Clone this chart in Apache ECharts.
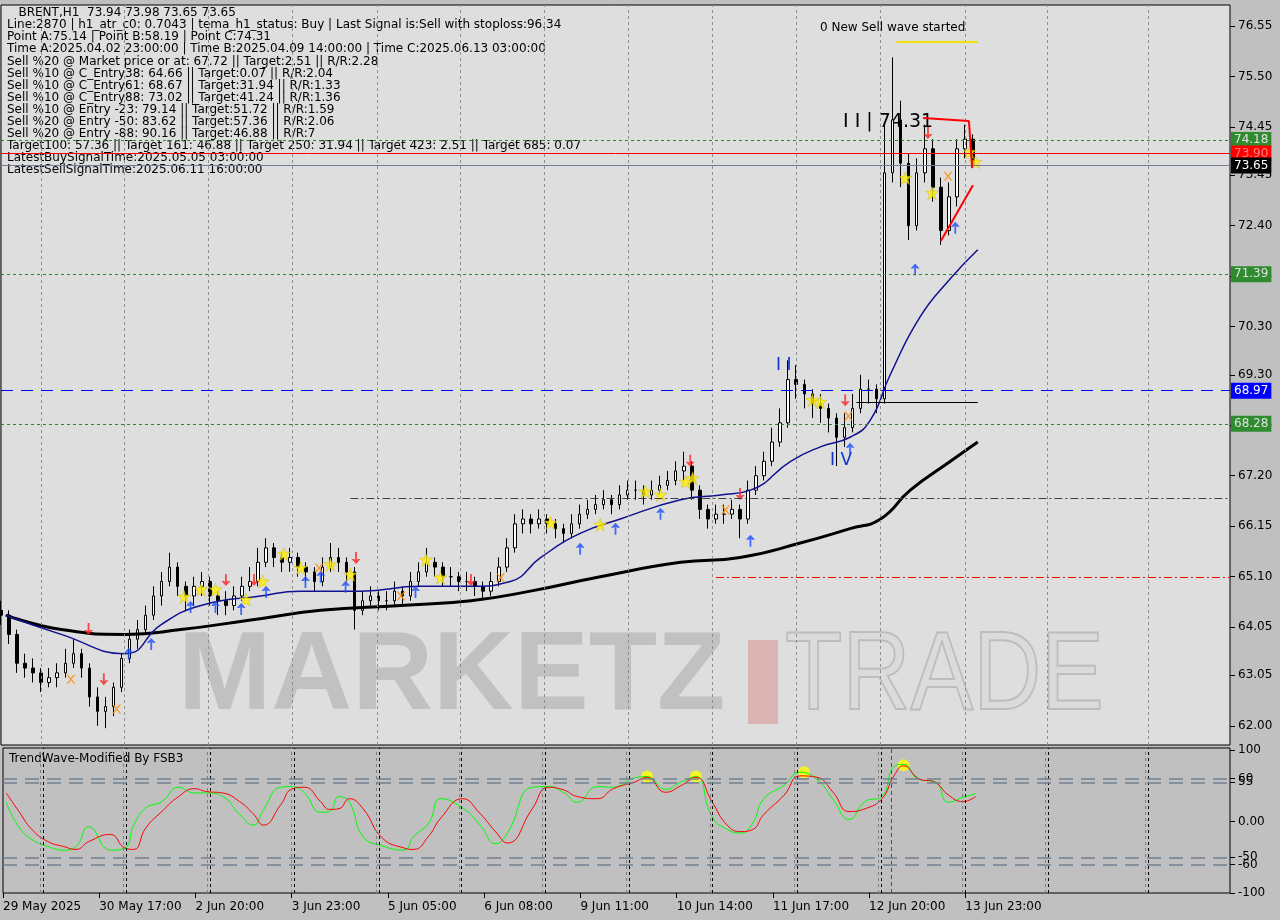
<!DOCTYPE html>
<html><head><meta charset="utf-8">
<script src="https://cdn.jsdelivr.net/npm/echarts@6/dist/echarts.min.js"></script>
<style>html,body{margin:0;padding:0;background:#c0c0c0}#c{width:1280px;height:920px}</style>
</head><body><div id="c"></div>
<script>
// ---- data ----
const closes=[64.30,63.90,63.30,63.20,63.10,62.90,63.00,63.10,63.30,63.50,63.20,62.60,62.30,62.40,62.80,63.40,63.80,64.00,64.30,64.70,65.00,65.30,64.90,64.70,64.90,65.00,64.70,64.60,64.50,64.70,64.90,65.00,65.40,65.70,65.50,65.40,65.50,65.30,65.20,65.00,65.30,65.50,65.40,65.20,64.40,64.60,64.70,64.60,64.60,64.80,64.70,65.00,65.20,65.40,65.30,65.10,65.10,65.00,65.00,64.90,64.80,65.00,65.30,65.70,66.20,66.30,66.20,66.30,66.20,66.10,66.00,66.20,66.40,66.50,66.60,66.70,66.60,66.80,66.90,66.90,66.80,66.90,67.00,67.10,67.30,67.40,66.90,66.50,66.30,66.40,66.40,66.50,66.30,66.90,67.20,67.50,67.90,68.30,69.20,69.10,68.90,68.70,68.60,68.40,68.00,68.20,68.60,69.00,69.00,68.80,73.50,74.60,73.70,72.40,73.50,74.00,73.20,72.30,73.00,74.00,74.20,73.65];
const highs=[64.6,64.4,64.0,63.5,63.4,63.2,63.2,63.3,63.6,63.8,63.6,63.3,62.8,62.6,62.9,63.5,64.0,64.2,64.5,64.9,65.2,65.6,65.4,65.0,65.1,65.2,65.1,64.8,64.8,64.9,65.1,65.3,65.7,65.9,65.8,65.6,65.7,65.6,65.4,65.3,65.5,65.8,65.7,65.5,65.3,64.8,64.9,64.8,64.8,65.0,64.9,65.2,65.4,65.7,65.5,65.4,65.3,65.2,65.2,65.1,65.0,65.2,65.5,65.9,66.4,66.5,66.4,66.5,66.4,66.3,66.2,66.4,66.6,66.7,66.8,66.9,66.8,67.0,67.1,67.1,67.0,67.1,67.2,67.3,67.5,67.7,67.5,67.0,66.6,66.6,66.6,66.7,66.6,67.1,67.4,67.7,68.2,68.6,69.6,69.5,69.2,69.0,68.9,68.7,68.5,68.5,68.9,69.3,69.2,69.1,74.5,75.9,75.0,73.9,73.8,74.5,74.2,73.4,73.3,74.2,74.5,74.3];
const lows=[64.1,63.7,63.1,63.0,62.9,62.7,62.8,62.8,63.0,63.2,63.0,62.4,62.0,61.95,62.2,62.7,63.3,63.6,63.9,64.2,64.5,64.9,64.7,64.4,64.5,64.7,64.5,64.3,64.3,64.4,64.6,64.8,64.9,65.3,65.3,65.2,65.2,65.1,65.0,64.8,64.9,65.2,65.2,65.0,64.0,64.3,64.5,64.4,64.4,64.5,64.5,64.6,64.9,65.1,65.1,64.9,64.9,64.8,64.8,64.7,64.6,64.7,64.9,65.2,65.6,66.0,66.0,66.1,66.0,65.9,65.8,65.9,66.1,66.3,66.4,66.5,66.4,66.5,66.7,66.7,66.6,66.7,66.8,66.9,67.0,67.1,66.7,66.3,66.1,66.2,66.2,66.3,65.9,66.2,66.8,67.1,67.4,67.8,68.2,68.8,68.6,68.4,68.3,68.1,67.4,67.8,68.1,68.5,68.7,68.5,68.7,73.3,73.2,72.1,72.3,73.3,72.9,72.0,72.2,72.8,73.8,73.6];
const firstOpen=64.40;
const blueMA=[[0.6,64.3],[7.5,63.9],[15.5,63.5],[19.9,64.1],[24.9,64.5],[32.3,64.7],[37.3,64.8],[44.8,64.8],[52.2,64.9],[58.5,64.9],[63.4,65.0],[67.2,65.5],[72.1,66.0],[77.1,66.3],[84.6,66.7],[89.6,66.8],[93.3,66.9],[98.3,67.5],[102,67.8],[105.7,68.0],[108.2,68.35],[110.7,69.3],[114.4,70.5],[118.2,71.3],[121.6,71.9]];
const blackMA=[[0.6,64.3],[7.5,64.0],[15.5,63.9],[22.4,64.0],[31.1,64.2],[39.8,64.4],[49.8,64.5],[58.5,64.6],[65.9,64.8],[74.6,65.1],[84.6,65.4],[92,65.5],[99.5,65.8],[105.7,66.1],[109.5,66.3],[113.2,66.9],[118.2,67.5],[121.6,67.9]];
const stars=[[22.8,64.68],[24.9,64.83],[26.7,64.83],[30.5,64.62],[32.6,65.0],[35.2,65.57],[37.3,65.28],[41.0,65.35],[43.5,65.14],[52.9,65.45],[54.7,65.08],[68.4,66.22],[74.6,66.18],[80.2,66.87],[82.1,66.8],[85.2,67.07],[86.1,67.15],[101.0,68.77],[102.0,68.73],[112.6,73.39],[115.9,73.08],[120.6,73.93],[121.3,73.72]];
const upArrows=[[15.9,63.5],[18.7,63.7],[23.6,64.47],[26.7,64.47],[29.9,64.43],[33.0,64.78],[37.9,64.99],[39.8,65.1],[42.9,64.89],[51.6,64.78],[72.1,65.68],[76.5,66.1],[82.1,66.41],[93.3,65.85],[105.7,67.76],[113.8,71.49],[118.8,72.36]];
const downArrows=[[10.9,64.01],[12.8,62.97],[28.0,65.03],[31.5,65.03],[44.2,65.49],[58.5,65.03],[85.8,67.51],[92.0,66.82],[105.1,68.77],[115.4,74.33]];
const orangeX=[[8.7,62.97],[14.4,62.35],[39.6,65.28],[49.8,64.7],[62.2,65.08],[90.2,66.49],[105.5,68.44],[117.9,73.43]];
const oscX=[0.4,2.0,3.6,5.6,7.6,9.1,10.7,13.4,15.2,16.3,17.8,19.8,21.9,23.9,25.4,27.4,29.5,31.2,32.5,34.6,36.1,37.6,39.6,40.7,41.9,43.2,44.9,47.3,50.0,51.2,53.1,54.6,57.3,59.5,61.4,62.9,66.0,68.0,70.0,71.6,74.1,76.1,78.7,80.3,82.6,84.5,86.4,88.4,90.3,92.0,93.5,94.8,97.4,99.4,101.5,103.5,105.5,107.5,109.6,111.1,112.3,114.2,116.2,117.9,119.7,121.3];
const oscGreen=[27,-8,-25,-35,-40,-35,-7,-40,-37,-5,19,28,48,40,40,35,10,-5,17,48,49,40,13,14,35,27,-21,-34,-40,-21,-2,32,19,-5,-31,-16,48,49,40,27,49,48,61,63,45,55,63,7,-11,-16,-2,31,51,69,59,31,3,28,35,77,80,59,56,27,34,39];
const oscRed=[40,14,-11,-28,-35,-39,-28,-18,-37,-39,-9,14,35,46,42,40,28,11,-5,23,46,48,28,17,18,32,18,-23,-37,-39,-20,5,32,11,-14,-30,18,48,44,35,32,46,55,62,41,50,62,28,-5,-14,-11,9,37,64,62,41,14,18,32,64,78,60,55,37,28,35];
const oscDots=[[80.3,63],[86.4,63],[99.9,69],[112.3,79]];
const dateLabels=["29 May 2025","30 May 17:00","2 Jun 20:00","3 Jun 23:00","5 Jun 05:00","6 Jun 08:00","9 Jun 11:00","10 Jun 14:00","11 Jun 17:00","12 Jun 20:00","13 Jun 23:00"];
const priceTicks=[76.55,75.50,74.45,73.45,72.40,71.35,70.30,69.30,68.25,67.20,66.15,65.10,64.05,63.05,62.00];
const oscTicks=[100,60,55,0,-50,-60,-100];
const levels={green:[74.18,71.39,68.28],red:73.90,last:73.65,blue:68.97};
const infoLines=["   BRENT,H1  73.94 73.98 73.65 73.65",
"Line:2870 | h1_atr_c0: 0.7043 | tema_h1_status: Buy | Last Signal is:Sell with stoploss:96.34",
"Point A:75.14 | Point B:58.19 | Point C:74.31",
"Time A:2025.04.02 23:00:00 | Time B:2025.04.09 14:00:00 | Time C:2025.06.13 03:00:00",
"Sell %20 @ Market price or at: 67.72 || Target:2.51 || R/R:2.28",
"Sell %10 @ C_Entry38: 64.66 || Target:0.07 || R/R:2.04",
"Sell %10 @ C_Entry61: 68.67 || Target:31.94 || R/R:1.33",
"Sell %10 @ C_Entry88: 73.02 || Target:41.24 || R/R:1.36",
"Sell %10 @ Entry -23: 79.14 || Target:51.72 || R/R:1.59",
"Sell %20 @ Entry -50: 83.62 || Target:57.36 || R/R:2.06",
"Sell %20 @ Entry -88: 90.16 || Target:46.88 || R/R:7",
"Target100: 57.36 || Target 161: 46.88 || Target 250: 31.94 || Target 423: 2.51 || Target 685: 0.07",
"LatestBuySignalTime:2025.05.05 03:00:00",
"LatestSellSignalTime:2025.06.11 16:00:00"];
const vGrid=[5.0,15.4,25.8,36.3,46.9,57.2,67.6,78.1,88.5,99.0,109.5,120.0,130.3,142.8];
const NCAT=154;
// ---- build ----
const cats=[];for(let i=0;i<NCAT;i++){cats.push(i%12===0&&i/12<dateLabels.length?dateLabels[i/12]:'');}
const candles=closes.map((c,i)=>[i===0?firstOpen:closes[i-1],c,lows[i],highs[i]]);
const ch=echarts.init(document.getElementById('c'));
const FONT='DejaVu Sans';
const lbl=(bg,fg)=>({show:true,position:'end',formatter:p=>p.value.toFixed(2),backgroundColor:bg,color:fg,fontFamily:FONT,fontSize:12,padding:[2,3],distance:1});
const gridLines=vGrid.map(v=>({xAxis:v}));
const xPath='path://M0,0L2,0L5,3L8,0L10,0L6,4L10,8L8,8L5,5L2,8L0,8L4,4Z';
ch.setOption({
 animation:false,backgroundColor:'#c0c0c0',
 grid:[{left:1,top:5,width:1229,height:740,show:true,backgroundColor:'#dedede',borderColor:'#000',borderWidth:1},
       {left:1,top:748,width:1229,height:145,show:true,backgroundColor:'#c0c0c0',borderColor:'#000',borderWidth:1}],
 xAxis:[{type:'category',gridIndex:0,data:cats,boundaryGap:false,axisLabel:{show:false},axisTick:{show:false},axisLine:{show:false}},
        {type:'value',gridIndex:0,min:0,max:NCAT-1,show:false},
        {type:'category',gridIndex:1,data:cats,boundaryGap:false,axisLine:{show:false,onZero:false},
         axisTick:{show:true,length:5,lineStyle:{color:'#000'},interval:(i,v)=>v!==''},
         axisLabel:{interval:(i,v)=>v!=='',align:'left',color:'#000',fontFamily:FONT,fontSize:12,margin:8}},
        {type:'value',gridIndex:1,min:0,max:NCAT-1,show:false}],
 yAxis:[{type:'value',gridIndex:0,position:'right',min:61.6,max:76.99,splitLine:{show:false},axisLine:{show:false,onZero:false},
         axisTick:{show:true,length:5,lineStyle:{color:'#000'},customValues:priceTicks},
         axisLabel:{customValues:priceTicks,formatter:v=>v.toFixed(2),color:'#000',fontFamily:FONT,fontSize:12,margin:8}},
        {type:'value',gridIndex:1,position:'right',min:-100,max:103,splitLine:{show:false},axisLine:{show:false,onZero:false},
         axisTick:{show:true,length:5,lineStyle:{color:'#000'},customValues:oscTicks},
         axisLabel:{customValues:oscTicks,showMinLabel:true,formatter:v=>v===0?'0.00':String(v),color:'#000',fontFamily:FONT,fontSize:12,margin:8}}],
 series:[
  {type:'line',xAxisIndex:1,yAxisIndex:0,data:[],silent:true,
   markLine:{symbol:'none',silent:true,data:gridLines,label:{show:false},lineStyle:{color:'#909090',type:[3,3],width:1}}},
  {type:'candlestick',xAxisIndex:0,yAxisIndex:0,data:candles,barWidth:3,
   itemStyle:{color:'#ffffff',color0:'#000000',borderColor:'#000',borderColor0:'#000',borderWidth:1},
   markLine:{symbol:'none',silent:true,data:[
     ...levels.green.map(v=>({yAxis:v,lineStyle:{color:'#228b22',type:[3,3],width:1},label:lbl('#2e8b2e','#e0e0e0')})),
     {yAxis:levels.red,lineStyle:{color:'#ff0000',type:'solid',width:1},label:lbl('#ff0000','#ff8080')},
     {yAxis:levels.last,lineStyle:{color:'#708090',type:'solid',width:1},label:lbl('#000000','#ffffff')},
     {yAxis:levels.blue,lineStyle:{color:'#0000ff',type:[12,8],width:1},label:lbl('#0000ff','#ffffff')}]}},
  {type:'line',xAxisIndex:1,yAxisIndex:0,data:blackMA,showSymbol:false,smooth:true,lineStyle:{color:'#000',width:3}},
  {type:'line',xAxisIndex:1,yAxisIndex:0,data:blueMA,showSymbol:false,smooth:true,lineStyle:{color:'#101090',width:1.5},
   markLine:{symbol:'none',silent:true,label:{show:false},data:[
     [{coord:[43.5,66.74]},{coord:[NCAT-1,66.74],lineStyle:{color:'#404040',type:[8,3,2,3],width:1}}],
     [{coord:[89,65.08]},{coord:[NCAT-1,65.08],lineStyle:{color:'#ff0000',type:[8,3,2,3],width:1}}],
     [{coord:[106.5,68.73]},{coord:[121.6,68.73],lineStyle:{color:'#000',type:'solid',width:1}}],
     [{coord:[111.5,76.22]},{coord:[121.6,76.22],lineStyle:{color:'#f0e000',type:'solid',width:2}}],
     [{coord:[114.8,74.64]},{coord:[120.5,74.58],lineStyle:{color:'#ff0000',type:'solid',width:2}}],
     [{coord:[117,72.08]},{coord:[121,73.24],lineStyle:{color:'#ff0000',type:'solid',width:2}}],
     [{coord:[120.5,74.58]},{coord:[120.9,73.6],lineStyle:{color:'#ff0000',type:'solid',width:2}}]]}},
  {type:'scatter',xAxisIndex:1,yAxisIndex:0,data:stars,symbol:'path://M5,0L6.2,3.6L10,3.6L7,6L8.1,10L5,7.6L1.9,10L3,6L0,3.6L3.8,3.6Z',symbolSize:13,itemStyle:{color:'#ffee00',borderColor:'#c8b400',borderWidth:0.5},z:4},
  {type:'scatter',xAxisIndex:1,yAxisIndex:0,data:upArrows,symbol:'path://M5,0L10,5L7,5L6,4L6,12L4,12L4,4L3,5L0,5Z',symbolSize:[9,12],itemStyle:{color:'#1a4cff'},z:4},
  {type:'scatter',xAxisIndex:1,yAxisIndex:0,data:downArrows,symbol:'path://M5,12L10,7L7,7L6,8L6,0L4,0L4,8L3,7L0,7Z',symbolSize:[9,12],itemStyle:{color:'#ff2020'},z:4},
  {type:'scatter',xAxisIndex:1,yAxisIndex:0,data:orangeX,symbol:xPath,symbolSize:9,itemStyle:{color:'#ff8c00'},z:4},
  {type:'line',xAxisIndex:3,yAxisIndex:1,data:[],silent:true,
   markLine:{symbol:'none',silent:true,label:{show:false},data:[
     ...vGrid.map(v=>({xAxis:v-0.35,lineStyle:{color:'#808080',type:[3,3],width:1}})),
     ...vGrid.map(v=>({xAxis:v,lineStyle:{color:'#000',type:[3,3],width:1}})),
     {xAxis:110.8,lineStyle:{color:'#c000c0',type:[4,3],width:1}},
     ...[60,55,-50,-60].map(v=>({yAxis:v,lineStyle:{color:'#708090',type:[14,8],width:1.5}}))]}},
  {type:'line',xAxisIndex:3,yAxisIndex:1,data:oscX.map((x,i)=>[x,oscGreen[i]]),showSymbol:false,smooth:true,lineStyle:{color:'#00ff00',width:1}},
  {type:'line',xAxisIndex:3,yAxisIndex:1,data:oscX.map((x,i)=>[x,oscRed[i]]),showSymbol:false,smooth:true,lineStyle:{color:'#ff0000',width:1}},
  {type:'scatter',xAxisIndex:3,yAxisIndex:1,data:oscDots,symbolSize:12,itemStyle:{color:'#ffff00'}}
 ],
 graphic:[
  {type:'text',left:178,top:622,z:1,silent:true,style:{text:'MARKETZ',font:'bold 112px "Liberation Sans"',fill:'rgba(90,90,90,0.22)'}},
  {type:'rect',left:748,top:640,z:1,silent:true,shape:{width:30,height:84},style:{fill:'rgba(210,80,80,0.3)'}},
  {type:'text',x:785,y:622,scaleX:0.84,z:1,silent:true,style:{text:'TRADE',font:'112px "Liberation Sans"',fill:'rgba(200,200,200,0.15)',stroke:'rgba(100,100,100,0.28)',lineWidth:2,textVerticalAlign:'top'}},
  {type:'text',left:7,top:7,style:{text:infoLines.join('\n'),font:'12px "DejaVu Sans"',lineHeight:12.1,fill:'#000'}},
  {type:'text',left:9,top:753,style:{text:'TrendWave-Modified By FSB3',font:'12px "DejaVu Sans"',fill:'#000'}},
  {type:'text',left:820,top:22,style:{text:'0 New Sell wave started',font:'12px "DejaVu Sans"',fill:'#000'}},
  {type:'text',left:843,top:113,style:{text:'I I | 74.31',font:'19px "DejaVu Sans"',fill:'#000'}},
  {type:'text',left:776,top:357,style:{text:'I I',font:'17px "DejaVu Sans"',fill:'#1030d0'}},
  {type:'text',left:830,top:452,style:{text:'I V',font:'17px "DejaVu Sans"',fill:'#1030d0'}}
 ]
});
</script></body></html>
